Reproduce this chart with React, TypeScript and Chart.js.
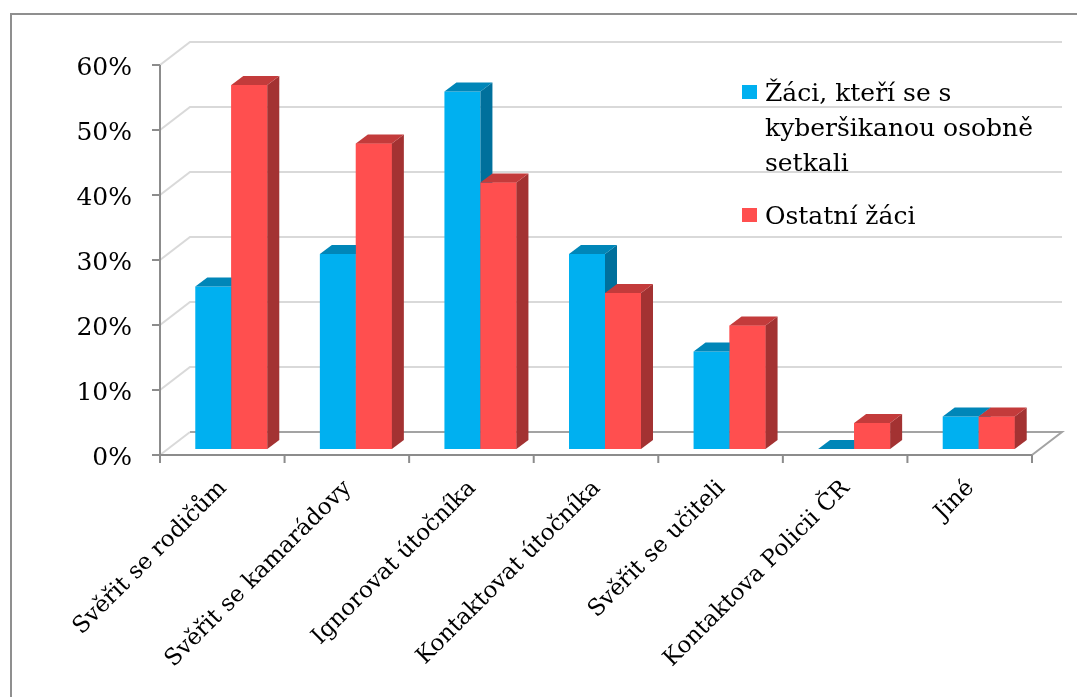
import React, { useEffect, useRef } from 'react';
import { Chart, registerables } from 'chart.js';

Chart.register(...registerables);

// ---------- data ----------
const categories = [
  'Svěřit se rodičům',
  'Svěřit se kamarádovy',
  'Ignorovat útočníka',
  'Kontaktovat útočníka',
  'Svěřit se učiteli',
  'Kontaktova Policii ČR',
  'Jiné',
];
const seriesNames = ['Žáci, kteří se s kyberšikanou osobně setkali', 'Ostatní žáci'];
const legendLines = [['Žáci, kteří se s', 'kyberšikanou osobně', 'setkali'], ['Ostatní žáci']];
const victims = [25, 30, 55, 30, 15, 0, 5];
const others = [56, 47, 41, 24, 19, 4, 5];
const yTicks = [0, 10, 20, 30, 40, 50, 60];

// ---------- styles ----------
const FONT = "'DejaVu Serif', serif";
const COL = {
  blueFront: '#00B0F0',
  blueTop: '#0086B8',
  blueSide: '#00709C',
  redFront: '#FF4F4F',
  redTop: '#C33B3B',
  redSide: '#A33232',
};
const GEO = {
  front: { dx: -9, dy: 6 },
  back: { dx: 21, dy: -17 },
  depth: { dx: 12, dy: -9 },
};

function drawFaces(ctx: CanvasRenderingContext2D, el: any, topCol: string, sideCol: string) {
  const p = el.getProps(['x', 'y', 'base', 'width'], true);
  const l = p.x - p.width / 2;
  const r = p.x + p.width / 2;
  const top = Math.min(p.y, p.base);
  const bottom = Math.max(p.y, p.base);
  const { dx, dy } = GEO.depth;
  ctx.fillStyle = sideCol;
  ctx.beginPath();
  ctx.moveTo(r, top);
  ctx.lineTo(r + dx, top + dy);
  ctx.lineTo(r + dx, bottom + dy);
  ctx.lineTo(r, bottom);
  ctx.closePath();
  ctx.fill();
  ctx.fillStyle = topCol;
  ctx.beginPath();
  ctx.moveTo(l, top);
  ctx.lineTo(l + dx, top + dy);
  ctx.lineTo(r + dx, top + dy);
  ctx.lineTo(r, top);
  ctx.closePath();
  ctx.fill();
}

const threeD = {
  id: 'threeD',
  beforeDraw(chart: any) {
    const ctx = chart.ctx;
    ctx.save();
    ctx.fillStyle = '#ffffff';
    ctx.fillRect(0, 0, chart.width, chart.height);
    ctx.strokeStyle = '#8f8f8f';
    ctx.lineWidth = 2;
    ctx.strokeRect(11, 14, 1200, 800);
    ctx.restore();
  },
  beforeDatasetsDraw(chart: any) {
    const { ctx, chartArea: a, scales } = chart;
    const y = scales.y;
    const x = scales.x;
    const { front, back } = GEO;
    const fl = a.left + front.dx;
    const fr = a.right + front.dx;
    const bl = a.left + back.dx;
    const br = a.right + back.dx;
    const y0 = y.getPixelForValue(0);
    const yMax = y.getPixelForValue(yTicks[yTicks.length - 1]);
    ctx.save();
    ctx.lineWidth = 2;
    ctx.strokeStyle = '#d9d9d9';
    yTicks.forEach((v) => {
      const py = y.getPixelForValue(v);
      ctx.beginPath();
      ctx.moveTo(fl, py + front.dy);
      ctx.lineTo(bl, py + back.dy);
      if (v !== 0) ctx.lineTo(br, py + back.dy);
      ctx.stroke();
    });
    // floor back edge + right edge
    ctx.strokeStyle = '#a3a3a3';
    ctx.beginPath();
    ctx.moveTo(bl, y0 + back.dy);
    ctx.lineTo(br, y0 + back.dy);
    ctx.lineTo(fr, y0 + front.dy);
    ctx.stroke();
    // front axes
    ctx.strokeStyle = '#8c8c8c';
    ctx.beginPath();
    ctx.moveTo(fl, yMax + front.dy);
    ctx.lineTo(fl, y0 + front.dy);
    ctx.lineTo(fr, y0 + front.dy);
    ctx.stroke();
    ctx.beginPath();
    yTicks.forEach((v) => {
      const py = y.getPixelForValue(v) + front.dy;
      ctx.moveTo(fl - 8, py);
      ctx.lineTo(fl, py);
    });
    for (let i = 0; i <= categories.length; i++) {
      const px = x.getPixelForValue(i - 0.5) + front.dx;
      ctx.moveTo(px, y0 + front.dy);
      ctx.lineTo(px, y0 + front.dy + 8);
    }
    ctx.stroke();
    ctx.restore();
  },
  afterDatasetsDraw(chart: any) {
    const { ctx, chartArea } = chart;
    const m0 = chart.getDatasetMeta(0);
    const m1 = chart.getDatasetMeta(1);
    ctx.save();
    for (let i = 0; i < categories.length; i++) {
      drawFaces(ctx, m0.data[i], COL.blueTop, COL.blueSide);
      m1.data[i].draw(ctx, chartArea);
      drawFaces(ctx, m1.data[i], COL.redTop, COL.redSide);
    }
    ctx.restore();
  },
  afterDraw(chart: any) {
    const ctx = chart.ctx;
    ctx.save();
    ctx.font = `25px ${FONT}`;
    ctx.textBaseline = 'alphabetic';
    ctx.textAlign = 'left';
    const blocks = [
      { sq: 85, base: 101 },
      { sq: 208, base: 224 },
    ];
    blocks.forEach((b, di) => {
      ctx.fillStyle = chart.data.datasets[di].backgroundColor;
      ctx.fillRect(742, b.sq, 15, 14);
      ctx.fillStyle = '#000000';
      legendLines[di].forEach((ln, li) => {
        ctx.fillText(ln, 765, b.base + li * 35);
      });
    });
    ctx.restore();
  },
};

export default function App() {
  const ref = useRef<HTMLCanvasElement | null>(null);
  useEffect(() => {
    if (!ref.current) return;
    const chart = new Chart(ref.current, {
      type: 'bar',
      data: {
        labels: categories,
        datasets: [
          {
            label: seriesNames[0],
            data: victims,
            backgroundColor: COL.blueFront,
            borderWidth: 0,
            categoryPercentage: 0.578,
            barPercentage: 1,
          },
          {
            label: seriesNames[1],
            data: others,
            backgroundColor: COL.redFront,
            borderWidth: 0,
            categoryPercentage: 0.578,
            barPercentage: 1,
          },
        ],
      },
      options: {
        responsive: false,
        animation: false,
        events: [],
        layout: { padding: { left: 0, right: 36, top: 59, bottom: 0 } },
        plugins: { legend: { display: false }, tooltip: { enabled: false } },
        scales: {
          x: {
            grid: { display: false, drawTicks: false },
            border: { display: false },
            afterFit: (s: any) => {
              s.height = 248;
            },
            ticks: {
              autoSkip: false,
              minRotation: 45,
              maxRotation: 45,
              padding: 26,
              labelOffset: -8,
              color: '#000000',
              font: { family: FONT, size: 23 },
            },
          },
          y: {
            min: 0,
            max: 60,
            grid: { display: false, drawTicks: false },
            border: { display: false },
            afterFit: (s: any) => {
              s.width = 169;
            },
            ticks: {
              stepSize: 10,
              padding: 37,
              labelOffset: 9,
              color: '#000000',
              font: { family: FONT, size: 25 },
              callback: (v: any) => v + '%',
            },
          },
        },
      },
      plugins: [threeD],
    });
    return () => chart.destroy();
  }, []);
  return (
    <div style={{ position: 'absolute', left: 0, top: 0, width: 1077, height: 697 }}>
      <canvas ref={ref} width={1077} height={697} />
    </div>
  );
}
